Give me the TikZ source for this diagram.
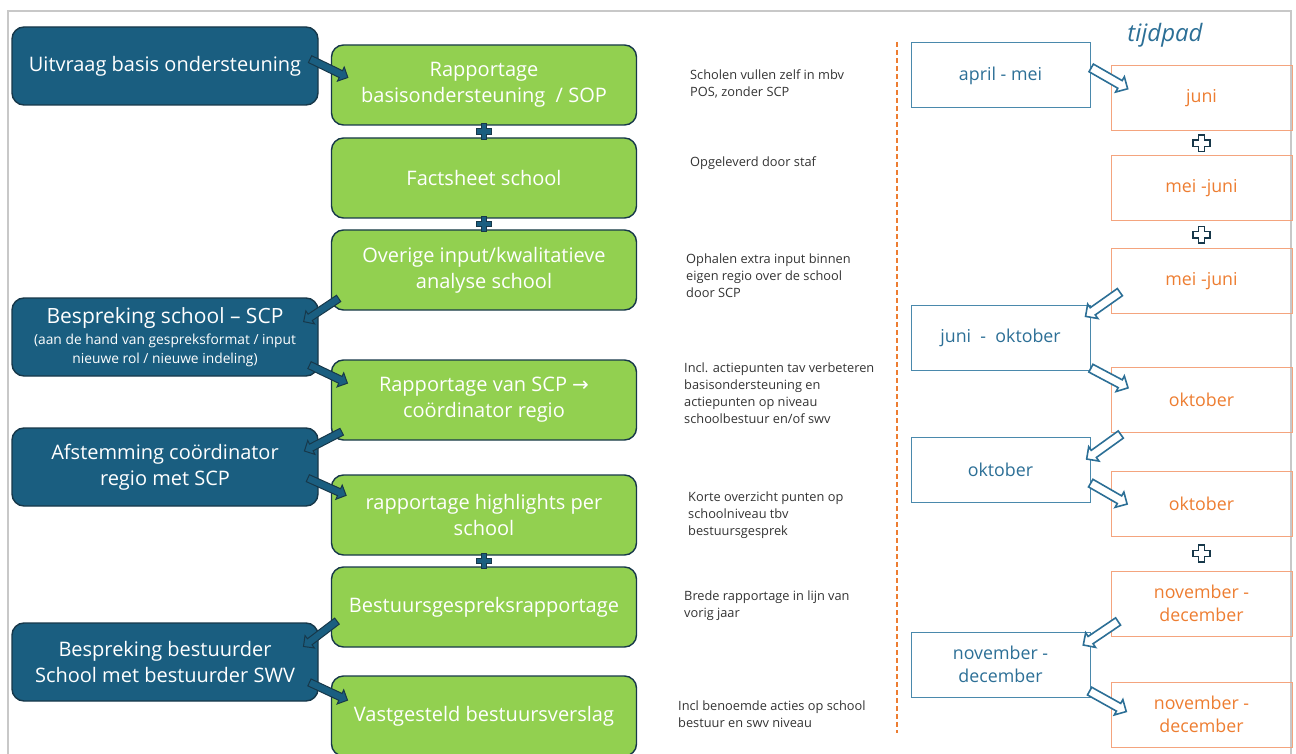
\documentclass[tikz,border=0pt]{standalone}
\usepackage{fontspec}
\setmainfont{Open Sans}
\newfontfamily\arrowfont{DejaVu Sans}
\usetikzlibrary{positioning,calc,shapes.arrows}

\definecolor{steel}{HTML}{1A5E80}
\definecolor{navy}{HTML}{17384A}
\definecolor{leaf}{HTML}{92D050}
\definecolor{tline}{HTML}{4A89AC}
\definecolor{ttext}{HTML}{2C6F96}
\definecolor{peach}{HTML}{F4A47E}
\definecolor{otext}{HTML}{ED7D31}
\definecolor{note}{HTML}{333333}
\definecolor{framegray}{HTML}{C8C8C8}

\newcommand{\smallnote}{\fontsize{13.8}{18}\selectfont}

\tikzset{
  bluebox/.style={draw=navy, fill=steel, line width=1.4pt, rounded corners=12pt,
    minimum width=306pt, minimum height=78pt, align=center, text=white,
    font=\fontsize{20}{26}\selectfont},
  greenbox/.style={draw=navy, fill=leaf, line width=1.4pt, rounded corners=12pt,
    minimum width=305pt, minimum height=80pt, align=center, text=white,
    font=\fontsize{20}{26}\selectfont},
  timebox/.style={draw=tline, line width=1pt, minimum width=179pt, minimum height=65pt,
    align=center, text=ttext, font=\fontsize{17.8}{23}\selectfont},
  orangebox/.style={draw=peach, line width=1pt, minimum width=181pt, minimum height=65pt,
    align=center, text=otext, font=\fontsize{17.8}{23}\selectfont},
  notetext/.style={anchor=west, align=left, text=note, inner sep=0pt,
    font=\fontsize{12.8}{17}\selectfont},
  flowarrow/.style={single arrow, draw=navy, fill=steel, line width=1pt, inner sep=3.3pt,
    single arrow head extend=4pt, minimum height=42pt, sloped, allow upside down},
  hollowarrow/.style={single arrow, draw=ttext, fill=white, line width=1.6pt, inner sep=3.6pt,
    single arrow head extend=4.4pt, minimum height=42pt, sloped, allow upside down},
  plusmark/.pic={
    \draw[pic actions] (-2.6,-7) -- (2.6,-7) -- (2.6,-2.6) -- (7,-2.6) -- (7,2.6)
      -- (2.6,2.6) -- (2.6,7) -- (-2.6,7) -- (-2.6,2.6) -- (-7,2.6) -- (-7,-2.6)
      -- (-2.6,-2.6) -- cycle;
  }
}

\begin{document}
\begin{tikzpicture}[x=1pt, y=-1pt]
  \useasboundingbox (0,0) rectangle (1296,754);
  \draw[framegray, line width=1.5pt] (8,760) -- (8,11) -- (1291,11) -- (1291,760);

  % process column
  \node (r1) [greenbox] at (484,85) {Rapportage\\basisondersteuning~ / SOP};
  \node (r2) [greenbox, below of=r1, node distance=93pt] {Factsheet school};
  \node (r3) [greenbox, below of=r2, node distance=92pt] {Overige input/kwalitatieve\\analyse school};
  \node (r4) [greenbox, below of=r3, node distance=130pt] {Rapportage van SCP {\arrowfont →}\\co\"ordinator regio};
  \node (r5) [greenbox, below of=r4, node distance=115pt] {rapportage highlights per\\school};
  \node (r6) [greenbox, below of=r5, node distance=92pt] {Bestuursgespreksrapportage};
  \node (r7) [greenbox, below of=r6, node distance=109pt] {Vastgesteld bestuursverslag};

  % overleg column
  \node (u1) [bluebox] at (165,66) {Uitvraag basis ondersteuning};
  \node (u2) [bluebox, below of=u1, node distance=271pt] {{\fontsize{21}{24}\selectfont Bespreking school -- SCP}\\[-5pt]
    \smallnote (aan de hand van gespreksformat / input\\[-7pt]\smallnote nieuwe rol / nieuwe indeling)};
  \node (u3) [bluebox, below of=u2, node distance=130pt] {Afstemming co\"ordinator\\regio met SCP};
  \node (u4) [bluebox, below of=u3, node distance=195pt] {Bespreking bestuurder\\School met bestuurder SWV};

  \pic[fill=steel, draw=navy, line width=1pt, scale=1.1] at ($(r1.south)!0.5!(r2.north)$) {plusmark};
  \pic[fill=steel, draw=navy, line width=1pt, scale=1.1] at ($(r2.south)!0.5!(r3.north)$) {plusmark};
  \pic[fill=steel, draw=navy, line width=1pt, scale=1.1] at ($(r5.south)!0.5!(r6.north)$) {plusmark};

  \path ([shift={(-11,-8)}]u1.east) -- node[flowarrow] {} ([shift={(16,-8)}]r1.west);
  \path ([shift={(9,-13)}]r3.south west) -- node[flowarrow] {} ([shift={(-13,23)}]u2.north east);
  \path ([shift={(-8,-11)}]u2.south east) -- node[flowarrow] {} ([shift={(12,-19)}]r4.west);
  \path ([shift={(9,-8)}]r4.south west) -- node[flowarrow] {} ([shift={(-9,21)}]u3.north east);
  \path ([shift={(-9,12)}]u3.east) -- node[flowarrow] {} ([shift={(10,-22)}]r5.west);
  \path ([shift={(5,15)}]r6.west) -- node[flowarrow] {} ([shift={(-11,21)}]u4.north east);
  \path ([shift={(-8,21)}]u4.east) -- node[flowarrow] {} ([shift={(12,-18)}]r7.west);

  % toelichting
  \node (m1) [notetext] at (690,83.5) {Scholen vullen zelf in mbv\\POS, zonder SCP};
  \node (m2) [notetext] at (690,163) {Opgeleverd door staf};
  \node (m3) [notetext] at (686,276) {Ophalen extra input binnen\\eigen regio over de school\\door SCP};
  \node (m4) [notetext] at (684,393) {Incl. actiepunten tav verbeteren\\basisondersteuning en\\actiepunten op niveau\\schoolbestuur en/of swv};
  \node (m5) [notetext] at (688,515) {Korte overzicht punten op\\schoolniveau tbv\\bestuursgesprek};
  \node (m6) [notetext] at (684,605.5) {Brede rapportage in lijn van\\vorig jaar};
  \node (m7) [notetext] at (678,714) {Incl benoemde acties op school\\bestuur en swv niveau};

  \draw[otext, line width=1.5pt, dash pattern=on 5pt off 3pt] (897,42) -- (897,733);

  % tijdpad
  \node (tp) [text=ttext, font=\fontsize{24}{28}\selectfont\itshape] at (1165,35) {tijdpad};
  \node (t1) [timebox] at (1000.5,75.5) {april - mei};
  \node (t2) [timebox, below of=t1, node distance=262.5pt] {juni~ -~ oktober};
  \node (t3) [timebox, below of=t2, node distance=132pt] {oktober};
  \node (t4) [timebox, below of=t3, node distance=194.5pt] {november -\\december};

  \node (o1) [orangebox] at (1201.5,98) {juni};
  \node (o2) [orangebox, below of=o1, node distance=90.5pt] {mei -juni};
  \node (o3) [orangebox, below of=o2, node distance=92.5pt] {mei -juni};
  \node (o4) [orangebox, below of=o3, node distance=119pt] {oktober};
  \node (o5) [orangebox, below of=o4, node distance=103.5pt] {oktober};
  \node (o6) [orangebox, below of=o5, node distance=100pt] {november -\\december};
  \node (o7) [orangebox, below of=o6, node distance=111pt] {november -\\december};

  \pic[fill=white, draw=navy, line width=1.6pt, scale=1.2] at ($(o1.south)!0.5!(o2.north)$) {plusmark};
  \pic[fill=white, draw=navy, line width=1.6pt, scale=1.2] at ($(o2.south)!0.5!(o3.north)$) {plusmark};
  \pic[fill=white, draw=navy, line width=1.6pt, scale=1.2] at ($(o5.south)!0.5!(o6.north)$) {plusmark};

  \path ([shift={(0,-8)}]t1.east) -- node[hollowarrow] {} ([shift={(14,-11)}]o1.west);
  \path ([shift={(11,-23)}]o3.south west) -- node[hollowarrow] {} ([shift={(-3,10)}]t2.north east);
  \path ([shift={(0,-3)}]t2.south east) -- node[hollowarrow] {} ([shift={(14,-14)}]o4.west);
  \path ([shift={(11,1)}]o4.south west) -- node[hollowarrow] {} ([shift={(-1,20)}]t3.north east);
  \path ([shift={(0,13)}]t3.east) -- node[hollowarrow] {} ([shift={(13,-1.5)}]o5.west);
  \path ([shift={(9,-16)}]o6.south west) -- node[hollowarrow] {} ([shift={(-5,12)}]t4.north east);
  \path ([shift={(-2,-7)}]t4.south east) -- node[hollowarrow] {} ([shift={(13,-4.5)}]o7.west);
\end{tikzpicture}
\end{document}
